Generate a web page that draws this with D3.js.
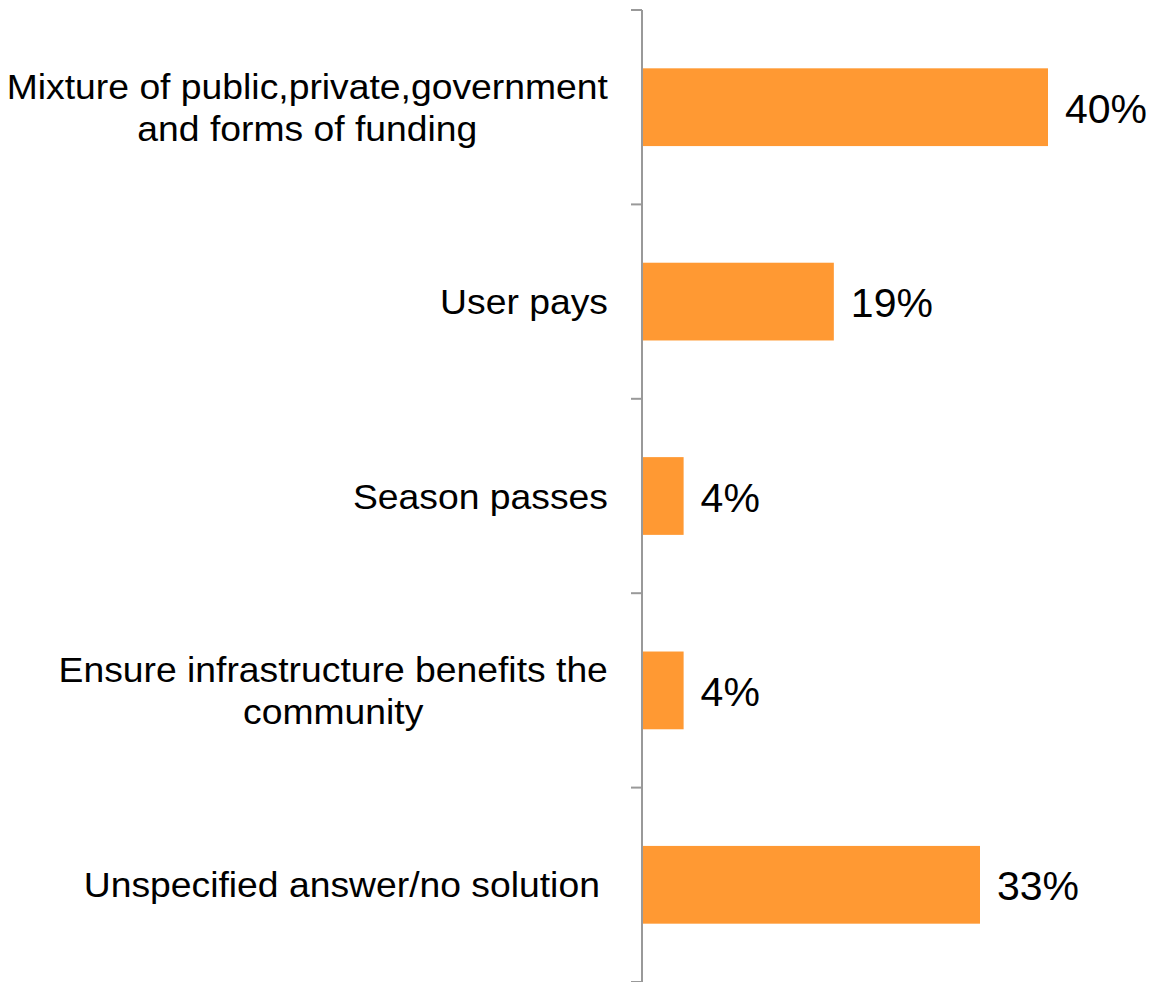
<!DOCTYPE html>
<html>
<head>
<meta charset="utf-8">
<script src="https://cdn.jsdelivr.net/npm/d3@7"></script>
<style>
  html, body { margin: 0; padding: 0; background: #fff; }
  svg { display: block; }
  text { font-family: "Liberation Sans", Arial, sans-serif; fill: #000; }
</style>
</head>
<body>
<svg id="chart" width="1158" height="982"></svg>
<script>
const categories = [
  "Mixture of public,private,government\nand forms of funding",
  "User pays",
  "Season passes",
  "Ensure infrastructure benefits the\ncommunity",
  "Unspecified answer/no solution"
];
const values = [40, 18.9, 4.1, 4.1, 33.3];
const valueLabels = ["40%", "19%", "4%", "4%", "33%"];
const labelOffsets = [0, 0, 0, 0, 8];

const svg = d3.select("#chart");
const axisX = 642;
const labelRight = 608;
const sx = 1.066;

const y = d3.scaleBand()
  .domain(categories)
  .range([10, 982])
  .paddingInner(0.6)
  .paddingOuter(0.3);

const x = d3.scaleLinear().domain([0, 40]).range([axisX, 1048]);

// bars
svg.append("g").selectAll("rect")
  .data(categories)
  .join("rect")
  .attr("x", axisX)
  .attr("y", d => y(d))
  .attr("width", (d, i) => x(values[i]) - axisX)
  .attr("height", y.bandwidth())
  .attr("fill", "#FF9933");

// axis line and ticks at band boundaries
const ax = svg.append("g");
ax.append("line")
  .attr("x1", axisX).attr("x2", axisX)
  .attr("y1", y.range()[0]).attr("y2", y.range()[1])
  .attr("stroke", "#999").attr("stroke-width", 2);
const bounds = categories.map(c => y(c) - y.step() * y.paddingOuter()).concat([y.range()[1]]);
ax.selectAll("line.tick")
  .data(bounds)
  .join("line")
  .attr("class", "tick")
  .attr("x1", axisX - 11).attr("x2", axisX)
  .attr("y1", d => d).attr("y2", d => d)
  .attr("stroke", "#999").attr("stroke-width", 2);

// category labels
const fs = 35, lh = 42;
categories.forEach((c, i) => {
  const lines = c.split("\n");
  const cy = y(c) + y.bandwidth() / 2;
  const g = svg.append("g");
  const t = g.append("text")
    .attr("font-size", fs)
    .attr("text-anchor", "middle");
  const n = lines.length;
  lines.forEach((ln, j) => {
    t.append("tspan")
      .attr("x", 0)
      .attr("y", (j - (n - 1) / 2) * lh + 12.5)
      .text(ln);
  });
  let maxW = 0;
  t.selectAll("tspan").each(function() {
    maxW = Math.max(maxW, this.getComputedTextLength());
  });
  const cx = labelRight - labelOffsets[i] - maxW * sx / 2;
  g.attr("transform", `translate(${cx},${cy}) scale(${sx},1)`);
});

// value labels
svg.append("g").selectAll("text")
  .data(categories)
  .join("text")
  .attr("x", (d, i) => x(values[i]) + 17)
  .attr("y", d => y(d) + y.bandwidth() / 2 + 15.5)
  .attr("font-size", 41)
  .text((d, i) => valueLabels[i]);
</script>
</body>
</html>
